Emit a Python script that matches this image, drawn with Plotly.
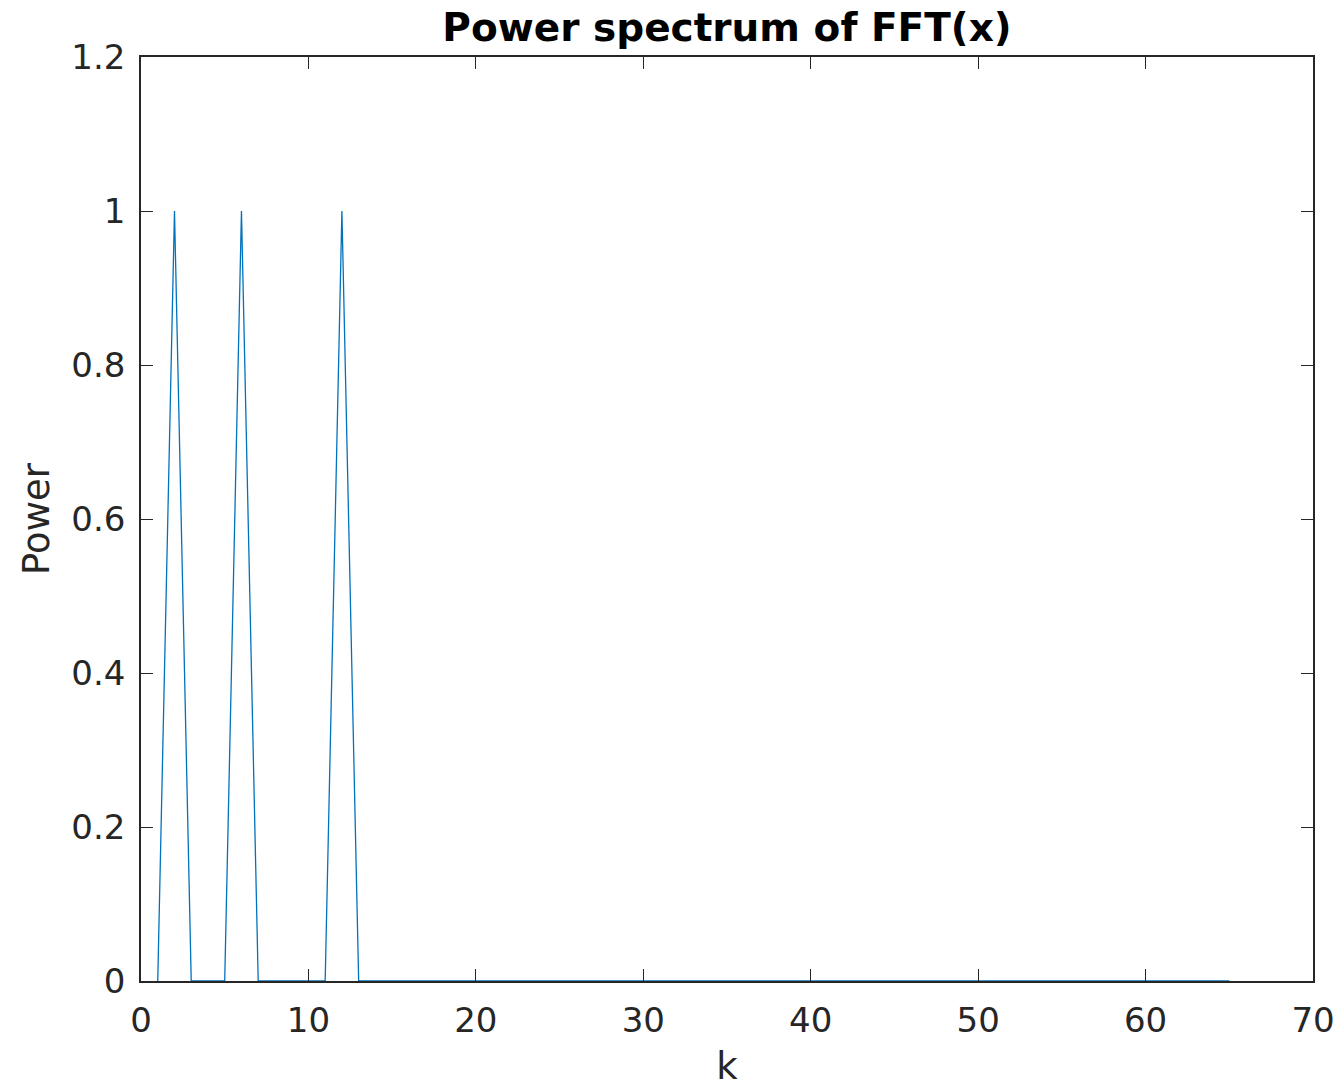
import plotly.graph_objects as go

k = list(range(1, 66))
peaks = {2: 1.0, 6: 1.0, 12: 1.0}
power = [peaks.get(i, 0.0) for i in k]

x_ticks = [0, 10, 20, 30, 40, 50, 60, 70]
y_ticks = [0, 0.2, 0.4, 0.6, 0.8, 1, 1.2]
y_ticklabels = ["0", "0.2", "0.4", "0.6", "0.8", "1", "1.2"]

fig = go.Figure()
fig.add_trace(go.Scatter(x=k, y=power, mode="lines",
                         line=dict(color="#0072BD", width=1.3), showlegend=False))

axis_common = dict(showline=True, linecolor="#262626", linewidth=1.5, mirror="ticks",
                   ticks="inside", ticklen=12, tickcolor="#262626", tickwidth=1,
                   showgrid=False, zeroline=False, automargin=False,
                   tickfont=dict(family="DejaVu Sans", size=34, color="#262626"))

fig.update_xaxes(range=[0, 70], tickvals=x_ticks, ticklabelstandoff=8, **axis_common,
                 title=dict(text="k", font=dict(family="DejaVu Sans", size=37, color="#262626"), standoff=20))
fig.update_yaxes(range=[0, 1.2], tickvals=y_ticks, ticktext=y_ticklabels, ticklabelstandoff=7,
                 **axis_common,
                 title=dict(text="Power", font=dict(family="DejaVu Sans", size=37, color="#262626"), standoff=10))

fig.update_layout(
    width=1336, height=1080,
    margin=dict(l=133, r=31, t=49, b=107, autoexpand=False),
    paper_bgcolor="white", plot_bgcolor="white",
    title=dict(text="<b>Power spectrum of FFT(x)</b>", x=0.5, xref="paper", xanchor="center",
               y=1, yref="paper", yanchor="bottom", pad=dict(b=16),
               font=dict(family="DejaVu Sans", size=39, color="black")),
)

fig.write_html("out.html")
